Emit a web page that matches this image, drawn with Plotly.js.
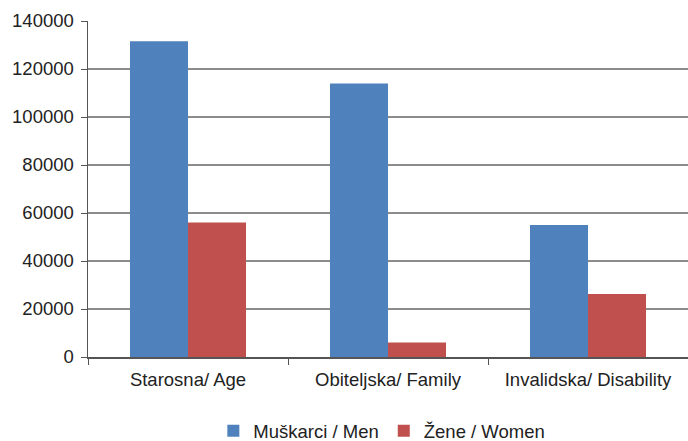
<!DOCTYPE html>
<html>
<head>
<meta charset="utf-8">
<script src="https://cdn.plot.ly/plotly-3.0.1.min.js"></script>
<style>html,body{margin:0;padding:0;background:#fff;}#chart{width:688px;height:441px;}</style>
</head>
<body>
<div id="chart"></div>
<script>
const categories = ["Starosna/ Age", "Obiteljska/ Family", "Invalidska/ Disability"];
const menValues = [131600, 114000, 55000];
const womenValues = [56000, 6000, 26300];
const seriesNames = ["Muškarci / Men", "Žene / Women"];
const yTicks = [0, 20000, 40000, 60000, 80000, 100000, 120000, 140000];

const font = {family: "Liberation Sans, Arial, sans-serif", size: 18.5, color: "#222222"};

const traces = [
  {type: "bar", x: categories, y: menValues, name: seriesNames[0],
   marker: {color: "#4f81bd", line: {width: 0}}},
  {type: "bar", x: categories, y: womenValues, name: seriesNames[1],
   marker: {color: "#c0504d", line: {width: 0}}}
];

const layout = {
  width: 688, height: 441,
  margin: {l: 88, r: 0, t: 21, b: 84, autoexpand: false},
  paper_bgcolor: "#ffffff", plot_bgcolor: "#ffffff",
  font: font,
  barmode: "group", bargap: 0.42, bargroupgap: 0,
  showlegend: true,
  legend: {orientation: "h", xref: "container", x: 0.555, xanchor: "center",
           yref: "container", y: 0.022, yanchor: "middle",
           font: font, itemwidth: 30, traceorder: "normal"},
  xaxis: {type: "category", range: [-0.5, 2.5], tickson: "boundaries",
          ticks: "outside", ticklen: 6, tickcolor: "#555555", tickwidth: 1,
          showline: true, linecolor: "#555555", linewidth: 1.5,
          showgrid: false, tickfont: font, fixedrange: true, ticklabelstandoff: 5},
  yaxis: {range: [0, 140000], tickvals: yTicks, ticktext: yTicks.map(String),
          ticks: "outside", ticklen: 6, tickcolor: "#555555",
          showline: true, linecolor: "#555555", linewidth: 1.5,
          showgrid: true, gridcolor: "#8c8c8c", gridwidth: 1.2,
          zeroline: false, tickfont: font, fixedrange: true, ticklabelstandoff: 3}
};

Plotly.newPlot("chart", traces, layout, {displayModeBar: false, staticPlot: true});
</script>
</body>
</html>
